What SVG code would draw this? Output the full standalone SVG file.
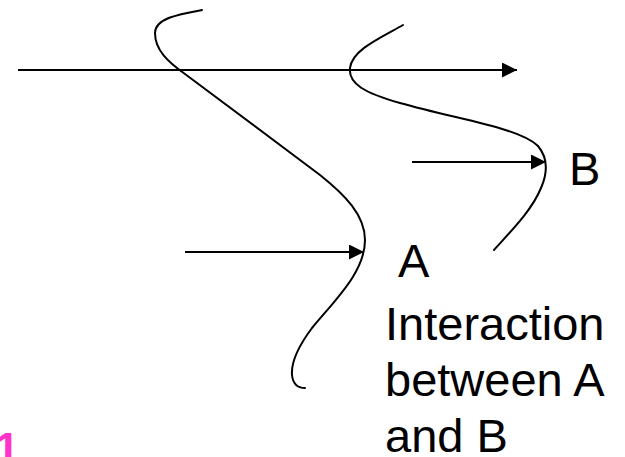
<svg xmlns="http://www.w3.org/2000/svg" width="625" height="457" viewBox="0 0 625 457">
  <style>
    .curve { fill: none; stroke: #000; stroke-width: 2; stroke-linecap: round; }
    .arrow { fill: none; stroke: #000; stroke-width: 2.2; }
    .lbl { font-family: "Liberation Sans", Arial, sans-serif; font-size: 47px; fill: #000; }
    .num { font-family: "Liberation Sans", Arial, sans-serif; font-size: 44px; font-weight: bold; fill: #FF33CC; }
  </style>
  <defs>
    <marker id="head" markerUnits="userSpaceOnUse" markerWidth="16" markerHeight="16" refX="15" refY="7.5" orient="auto">
      <path d="M0,0 L15,7.5 L0,15 z" fill="#000"/>
    </marker>
  </defs>
  <rect width="625" height="457" fill="#fff"/>
  <g id="wavefront-A">
    <path class="curve" d="M202,10 C180,14 155,18 155,33 C155,50 168,62 185,74 L320,175 C345,195 365,215 365,240 C365,272 335,300 312,328 C297,348 291,362 292,375 C293,385 299,388 305,388"/>
  </g>
  <g id="wavefront-B">
    <path class="curve" d="M403,25 C380,38 352,50 350,68 C348,84 365,93 400,103 C460,120 520,128 538,146 C548,158 548,172 541,188 C532,210 512,230 494,250"/>
  </g>
  <g id="connectors">
    <line class="arrow" x1="18" y1="70" x2="517" y2="70" marker-end="url(#head)"/>
    <line class="arrow" x1="412" y1="162" x2="546" y2="162" marker-end="url(#head)"/>
    <line class="arrow" x1="185" y1="252" x2="364" y2="252" marker-end="url(#head)"/>
  </g>
  <g id="label-B"><text class="lbl" x="569" y="185">B</text></g>
  <g id="label-A"><text class="lbl" x="398" y="277">A</text></g>
  <g id="label-interaction">
    <text class="lbl" x="385" y="340">Interaction</text>
    <text class="lbl" x="385" y="396">between A</text>
    <text class="lbl" x="385" y="452">and B</text>
  </g>
  <text class="num" x="-5" y="464">1</text>
</svg>
